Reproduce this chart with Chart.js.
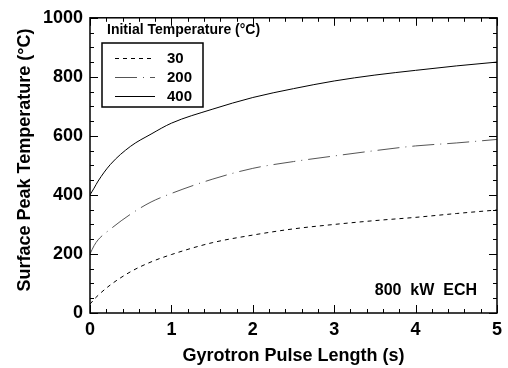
<!DOCTYPE html>
<html>
<head>
<meta charset="utf-8">
<script src="https://cdn.jsdelivr.net/npm/chart.js@4"></script>
<style>
  html, body { margin: 0; padding: 0; background: #fff; }
  #wrap { width: 508px; height: 368px; position: relative; }
</style>
</head>
<body>
<div id="wrap"><canvas id="chart"></canvas></div>
<script>
// valores
const pulseLength = [0, 0.05, 0.1, 0.25, 0.5, 0.75, 1, 1.5, 2, 2.5, 3, 3.5, 4, 4.5, 5];
const temp30  = [30, 46, 60, 95, 140, 173, 198, 238, 264, 285, 300, 313, 324, 337, 349];
const temp200 = [200, 228, 248, 284, 335, 376, 405, 453, 490, 513, 532, 550, 566, 576, 588];
const temp400 = [400, 423, 447, 503, 565, 606, 643, 690, 730, 760, 786, 806, 822, 837, 850];
const seriesLabels = ['30', '200', '400'];
const xTicks = [0, 1, 2, 3, 4, 5];
const yTicks = [0, 200, 400, 600, 800, 1000];

const FONT = "'Liberation Sans', Arial, Helvetica, sans-serif";
Chart.defaults.color = '#000';
Chart.defaults.font.family = FONT;

const toPoints = (arr) => pulseLength.map((x, i) => ({ x, y: arr[i] }));

const dashes = [[4, 4], [22, 6, 1, 6], []];
const lineColors = ['#000', '#555', '#000'];

const data = {
    datasets: [temp30, temp200, temp400].map((arr, i) => ({
        label: seriesLabels[i],
        data: toPoints(arr),
        borderColor: lineColors[i],
        borderWidth: 1,
        borderDash: dashes[i],
        pointRadius: 0,
        fill: false,
        cubicInterpolationMode: 'monotone'
    }))
};

// moldura, marcas internas, legenda e anotação
const framePlugin = {
    id: 'frame',
    afterDraw(chart) {
        const { ctx, chartArea: a, scales: { x, y } } = chart;
        ctx.save();
        ctx.strokeStyle = '#000';
        ctx.lineWidth = 1.5;
        ctx.strokeRect(a.left, a.top, a.right - a.left, a.bottom - a.top);

        ctx.lineWidth = 1;
        ctx.beginPath();
        for (let v = 0; v <= 5.0001; v += 0.2) {
            const px = Math.round(x.getPixelForValue(v)) + 0.5;
            const len = Math.abs(v - Math.round(v)) < 1e-6 ? 8 : 4;
            ctx.moveTo(px, a.bottom); ctx.lineTo(px, a.bottom - len);
            ctx.moveTo(px, a.top); ctx.lineTo(px, a.top + len);
        }
        for (let v = 0; v <= 1000; v += 50) {
            const py = Math.round(y.getPixelForValue(v)) + 0.5;
            const len = v % 200 === 0 ? 8 : 4;
            ctx.moveTo(a.left, py); ctx.lineTo(a.left + len, py);
            ctx.moveTo(a.right, py); ctx.lineTo(a.right - len, py);
        }
        ctx.stroke();

        ctx.fillStyle = '#000';
        ctx.textBaseline = 'middle';

        // título do eixo y
        ctx.save();
        ctx.translate(25, 160);
        ctx.rotate(-Math.PI / 2);
        ctx.textAlign = 'center';
        ctx.font = 'bold 18px ' + FONT;
        ctx.fillText('Surface Peak Temperature (°C)', 0, 0);
        ctx.restore();

        // legenda
        ctx.font = 'bold 14px ' + FONT;
        ctx.textAlign = 'left';
        ctx.fillText('Initial Temperature (°C)', 107, 30);
        ctx.lineWidth = 1.5;
        ctx.strokeRect(102, 43, 101, 64);
        const rows = [58, 77, 96];
        ctx.font = 'bold 15px ' + FONT;
        chart.data.datasets.forEach((ds, i) => {
            ctx.save();
            ctx.lineWidth = 1;
            ctx.strokeStyle = ds.borderColor;
            ctx.setLineDash(ds.borderDash);
            ctx.beginPath();
            ctx.moveTo(115, rows[i] + 0.5);
            ctx.lineTo(155, rows[i] + 0.5);
            ctx.stroke();
            ctx.restore();
            ctx.fillText(ds.label, 167, rows[i] + 1);
        });

        ctx.font = 'bold 16px ' + FONT;
        ctx.textAlign = 'right';
        ctx.fillText('800  kW  ECH', 477, 291);
        ctx.restore();
    }
};

new Chart(document.getElementById('chart'), {
    type: 'line',
    data,
    options: {
        responsive: true,
        maintainAspectRatio: false,
        animation: false,
        layout: { padding: { left: 0, top: 17, right: 5, bottom: 0 } },
        plugins: { legend: { display: false }, tooltip: { enabled: false } },
        scales: {
            x: {
                type: 'linear',
                min: 0,
                max: 5,
                afterFit: (s) => { s.height = 55; },
                afterBuildTicks: (s) => { s.ticks = xTicks.map(v => ({ value: v })); },
                grid: { display: false, drawTicks: false },
                border: { display: false },
                ticks: { padding: 6, font: { size: 18, weight: 'bold' } },
                title: {
                    display: true,
                    text: 'Gyrotron Pulse Length (s)',
                    font: { size: 18, weight: 'bold' },
                    padding: { top: 0, bottom: 1 }
                }
            },
            y: {
                min: 0,
                max: 1000,
                afterFit: (s) => { s.width = 90; },
                afterBuildTicks: (s) => { s.ticks = yTicks.map(v => ({ value: v })); },
                grid: { display: false, drawTicks: false },
                border: { display: false },
                ticks: {
                    padding: 7,
                    font: { size: 18, weight: 'bold' },
                    callback: (v) => String(v)
                }
            }
        }
    },
    plugins: [framePlugin]
});
</script>
</body>
</html>
